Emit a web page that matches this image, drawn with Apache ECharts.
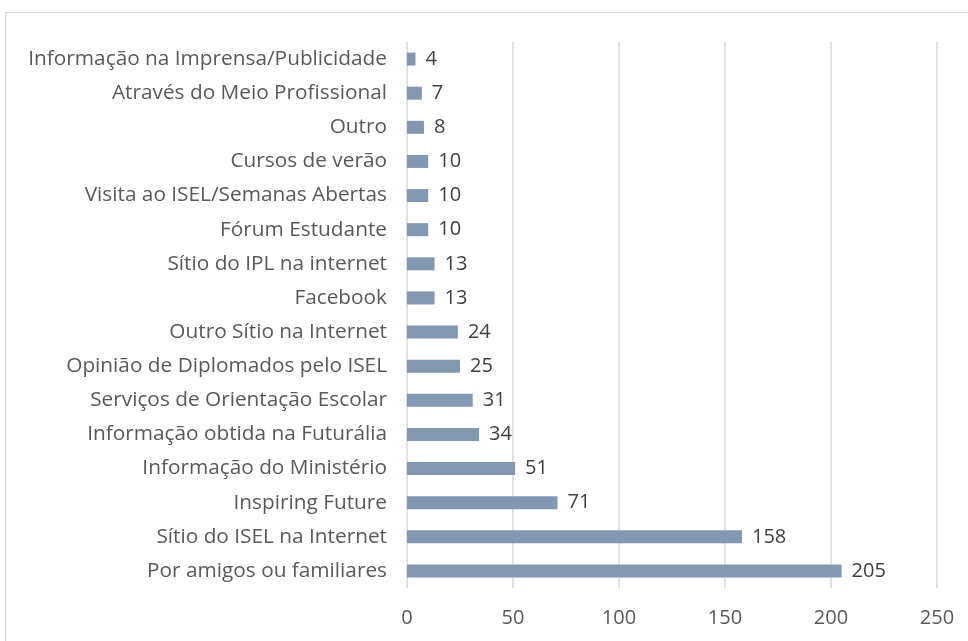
<!DOCTYPE html>
<html>
<head>
<meta charset="utf-8">
<script src="https://cdn.jsdelivr.net/npm/echarts@6/dist/echarts.min.js"></script>
<style>
  html, body { margin: 0; padding: 0; background: #fff; }
  #frame { position: absolute; left: 5px; top: 12px; width: 980px; height: 650px; border: 1px solid #d9d9d9; box-sizing: border-box; }
  #chart { position: absolute; left: 0; top: 0; width: 968px; height: 641px; }
</style>
</head>
<body>
<div id="frame"></div>
<div id="chart"></div>
<script>
// top to bottom
const categories = [
  "Informação na Imprensa/Publicidade",
  "Através do Meio Profissional",
  "Outro",
  "Cursos de verão",
  "Visita ao ISEL/Semanas Abertas",
  "Fórum Estudante",
  "Sítio do IPL na internet",
  "Facebook",
  "Outro Sítio na Internet",
  "Opinião de Diplomados pelo ISEL",
  "Serviços de Orientação Escolar",
  "Informação obtida na Futurália",
  "Informação do Ministério",
  "Inspiring Future",
  "Sítio do ISEL na Internet",
  "Por amigos ou familiares",
];
const values = [4, 7, 8, 10, 10, 10, 13, 13, 24, 25, 31, 34, 51, 71, 158, 205];
const xTicks = [0, 50, 100, 150, 200, 250];

const font = "'Open Sans', sans-serif";
const chart = echarts.init(document.getElementById("chart"));
chart.setOption({
  animation: false,
  grid: { left: 407, right: 31, top: 42, bottom: 53 },
  xAxis: {
    type: "value",
    min: xTicks[0],
    max: xTicks[xTicks.length - 1],
    interval: 50,
    axisLine: { show: false },
    axisTick: { show: false },
    axisLabel: { color: "#595959", fontSize: 20, fontFamily: font, margin: 20 },
    splitLine: { lineStyle: { color: "#d9d9d9", width: 1.5 } },
  },
  yAxis: {
    type: "category",
    inverse: true,
    data: categories,
    axisLine: { show: false },
    axisTick: { show: false },
    axisLabel: { color: "#595959", fontSize: 20.8, fontFamily: font, margin: 20 },
  },
  series: [
    {
      type: "bar",
      data: values,
      barWidth: 13,
      itemStyle: { color: "#8497b0" },
      label: {
        show: true,
        position: "right",
        distance: 10,
        color: "#404040",
        fontSize: 20,
        fontFamily: font,
      },
    },
  ],
});
</script>
</body>
</html>
